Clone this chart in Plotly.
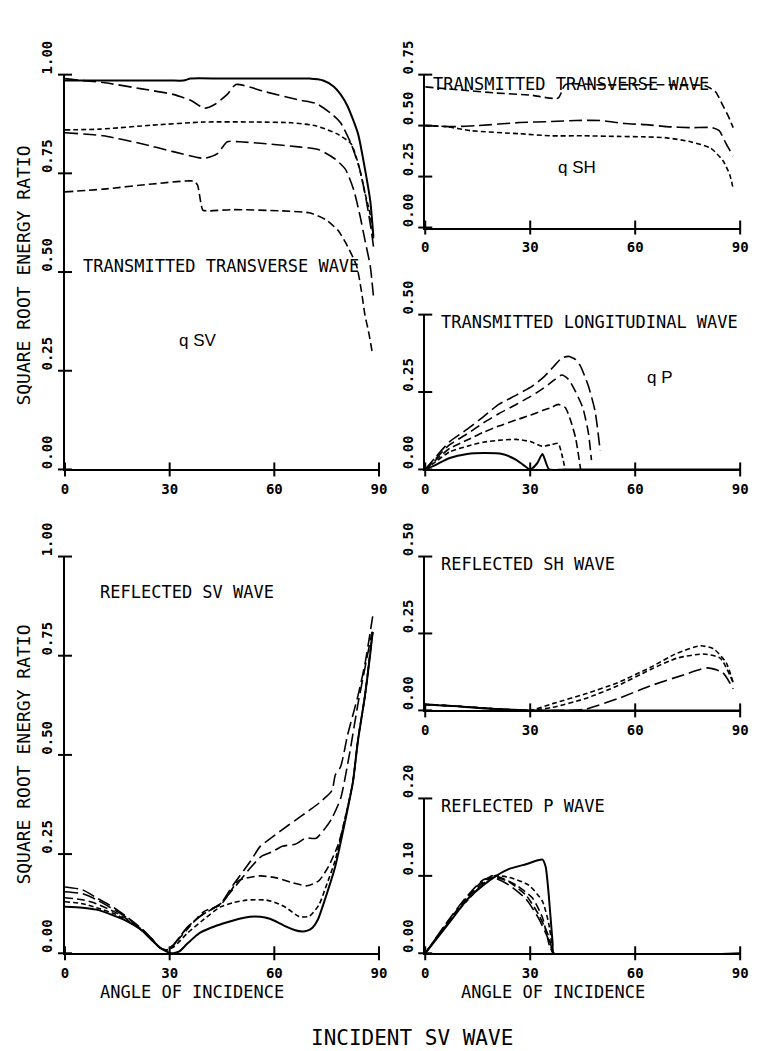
import plotly.graph_objects as go

W, H = 759, 1051

# ---------------- axis ticks ----------------
X_TICKS = [0, 30, 60, 90]
X_TICK_TEXT = ["0", "30", "60", "90"]
Y_TICKS_100 = [0.0, 0.25, 0.5, 0.75, 1.0]
Y_TICKS_075 = [0.0, 0.25, 0.5, 0.75]
Y_TICKS_050 = [0.0, 0.25, 0.5]
Y_TICKS_020 = [0.0, 0.1, 0.2]

# ---------------- transmitted qSV ----------------
tsv_solid_x = [0, 10, 20, 30, 34, 36, 45, 60, 70, 74, 77, 79, 81, 84, 86, 87.5, 88.4]
tsv_solid_y = [0.985, 0.985, 0.985, 0.985, 0.985, 0.99, 0.99, 0.99, 0.99, 0.985, 0.97, 0.95, 0.92, 0.85, 0.76, 0.68, 0.59]
tsv_ld1_x = [0, 5, 11, 22, 31, 36, 40, 43, 46.5, 49, 57.7, 67, 72, 76.5, 79, 82, 84.5, 86.4, 87.8, 88.5]
tsv_ld1_y = [0.99, 0.985, 0.98, 0.964, 0.95, 0.935, 0.915, 0.925, 0.95, 0.975, 0.956, 0.936, 0.927, 0.90, 0.878, 0.825, 0.76, 0.68, 0.605, 0.56]
tsv_sd1_x = [0, 10, 25, 40, 55, 65, 72, 78, 82, 84, 86, 87.5, 88.5]
tsv_sd1_y = [0.86, 0.862, 0.872, 0.88, 0.88, 0.878, 0.87, 0.85, 0.825, 0.776, 0.70, 0.645, 0.58]
tsv_ld2_x = [0, 11, 22, 31, 38, 40, 43.7, 46.5, 50, 57.7, 67, 72.8, 77.6, 80.4, 82.7, 84.5, 86, 87.5, 88.5]
tsv_ld2_y = [0.853, 0.845, 0.825, 0.805, 0.79, 0.788, 0.80, 0.83, 0.83, 0.825, 0.817, 0.81, 0.785, 0.76, 0.71, 0.645, 0.58, 0.515, 0.43]
tsv_md_x = [0, 11, 25, 37, 38, 39.5, 41, 48, 62, 70, 74.7, 78.3, 81, 83.6, 85, 86, 87, 88]
tsv_md_y = [0.703, 0.71, 0.723, 0.73, 0.72, 0.657, 0.655, 0.658, 0.655, 0.65, 0.633, 0.605, 0.565, 0.515, 0.45, 0.39, 0.35, 0.30]

# ---------------- transmitted qSH ----------------
tsh_md_x = [0, 10, 20, 30, 38, 40, 50, 60, 70, 80, 83, 85, 86.5, 88]
tsh_md_y = [0.69, 0.675, 0.66, 0.65, 0.635, 0.70, 0.70, 0.70, 0.70, 0.695, 0.665, 0.60, 0.55, 0.49]
tsh_ld_x = [0, 8, 15, 27, 36, 43, 50, 57, 63, 69, 76, 82, 84, 86, 88]
tsh_ld_y = [0.50, 0.495, 0.50, 0.515, 0.52, 0.525, 0.525, 0.51, 0.505, 0.495, 0.49, 0.49, 0.475, 0.41, 0.35]
tsh_sd_x = [0, 6, 13, 27, 36, 45, 55, 62, 69, 76, 81.5, 85, 87, 88]
tsh_sd_y = [0.50, 0.495, 0.475, 0.46, 0.45, 0.45, 0.447, 0.445, 0.44, 0.42, 0.39, 0.33, 0.26, 0.19]

# ---------------- transmitted qP ----------------
tp_solid_x = [0, 3, 7, 12, 16.6, 22, 26, 28, 30, 32, 33.5, 35.4, 40, 90]
tp_solid_y = [0, 0.015, 0.037, 0.05, 0.053, 0.05, 0.031, 0.015, 0.0, 0.02, 0.05, 0.0, 0, 0]
tp_sd1_x = [0, 3, 7, 12, 16.6, 22, 26, 30, 33.5, 36, 38, 39, 40]
tp_sd1_y = [0, 0.025, 0.057, 0.075, 0.088, 0.095, 0.097, 0.09, 0.075, 0.08, 0.084, 0.05, 0]
tp_d2_x = [0, 3, 7, 12, 16.6, 21, 26, 30, 33.5, 36, 38, 40, 41.5, 43, 44.4]
tp_d2_y = [0, 0.03, 0.068, 0.095, 0.12, 0.14, 0.16, 0.175, 0.19, 0.2, 0.21, 0.2, 0.16, 0.1, 0]
tp_d3_x = [0, 3, 7, 12, 16.6, 21, 26, 30, 33.5, 37, 39, 41, 43, 45, 46.6, 47.5]
tp_d3_y = [0, 0.035, 0.08, 0.115, 0.15, 0.18, 0.21, 0.235, 0.26, 0.29, 0.305, 0.29, 0.25, 0.2, 0.12, 0.03]
tp_d4_x = [0, 3, 7, 12, 16.6, 21, 26, 30.7, 34, 37.3, 39, 41, 43, 44.3, 46.6, 48.5, 50]
tp_d4_y = [0, 0.04, 0.09, 0.13, 0.17, 0.21, 0.24, 0.27, 0.3, 0.34, 0.36, 0.365, 0.355, 0.335, 0.27, 0.19, 0.06]

# ---------------- reflected SV ----------------
rsv_solid_x = [0, 5, 9, 14, 18, 22, 25, 27.6, 30.5, 32.8, 35, 37, 39, 43, 46.5, 50, 53, 56, 58.7, 61, 63.4, 66, 68,
               69.5, 71, 72.5, 74.6, 77.5, 80.3, 82.5, 84, 86, 87.5, 88.2]
rsv_solid_y = [0.117, 0.115, 0.11, 0.095, 0.08, 0.058, 0.032, 0.012, 0.0, 0.005, 0.024, 0.04, 0.053, 0.068, 0.078, 0.087,
               0.092, 0.092, 0.087, 0.078, 0.067, 0.058, 0.055, 0.057, 0.065, 0.085, 0.138, 0.22, 0.333, 0.43, 0.537,
               0.65, 0.755, 0.81]
rsv_sd1_x = [0, 5, 9, 14, 18, 22, 25, 27, 29, 31.3, 35, 39, 44.6, 48, 52, 57.7, 60.6, 63.4, 67, 70, 72.8, 74.6, 77.5,
             80, 82.5, 84, 86, 87.5, 88.2]
rsv_sd1_y = [0.13, 0.125, 0.115, 0.1, 0.082, 0.058, 0.035, 0.015, 0.008, 0.017, 0.05, 0.08, 0.117, 0.127, 0.134, 0.134,
             0.127, 0.115, 0.093, 0.093, 0.122, 0.163, 0.236, 0.33, 0.43, 0.54, 0.65, 0.76, 0.81]
rsv_sd2_x = [0, 5, 9, 14, 18, 22, 25, 27, 29, 31, 35, 39.8, 44.6, 47, 49.7, 55.9, 60.6, 65.2, 69.4, 72.8, 75.6, 78.4,
             80.3, 82.5, 84, 86, 87.5, 88.2]
rsv_sd2_y = [0.14, 0.135, 0.125, 0.105, 0.085, 0.058, 0.035, 0.015, 0.008, 0.02, 0.06, 0.105, 0.122, 0.15, 0.183, 0.195,
             0.19, 0.178, 0.17, 0.183, 0.22, 0.276, 0.34, 0.43, 0.54, 0.65, 0.76, 0.81]
rsv_ld3_x = [0, 5, 9, 14, 18, 22, 25, 27, 29, 31, 35, 39, 44.6, 48, 53.6, 56.4, 59.5, 62.3, 66, 69, 72, 75, 76.5, 79,
             81.5, 84, 86, 88]
rsv_ld3_y = [0.155, 0.15, 0.135, 0.11, 0.088, 0.06, 0.035, 0.015, 0.008, 0.02, 0.065, 0.095, 0.125, 0.16, 0.22, 0.245,
             0.256, 0.27, 0.275, 0.29, 0.29, 0.32, 0.34, 0.39, 0.5, 0.63, 0.72, 0.81]
rsv_ld4_x = [0, 5, 9, 14, 18, 22, 25, 27, 29, 31, 35, 39, 44.6, 48, 53, 56, 59, 62, 66, 70, 73, 76.5, 77.5, 79, 81, 84,
             86, 88.3]
rsv_ld4_y = [0.167, 0.16, 0.14, 0.115, 0.09, 0.062, 0.035, 0.015, 0.008, 0.02, 0.065, 0.095, 0.125, 0.17, 0.23, 0.27,
             0.29, 0.31, 0.335, 0.36, 0.38, 0.41, 0.45, 0.47, 0.55, 0.65, 0.73, 0.855]

# ---------------- reflected SH ----------------
rsh_solid_x = [0, 10, 17.5, 25, 30, 90]
rsh_solid_y = [0.019, 0.013, 0.006, 0.002, 0, 0]
rsh_sd1_x = [0, 10, 20, 30, 36.4, 45.6, 55, 64.4, 72, 78.7, 82.4, 86, 88]
rsh_sd1_y = [0.019, 0.013, 0.005, 0.0, 0.022, 0.053, 0.09, 0.14, 0.186, 0.21, 0.2, 0.155, 0.09]
rsh_sd2_x = [0, 10, 20, 30, 36.4, 45.6, 55, 64.4, 72, 79.5, 84.3, 88]
rsh_sd2_y = [0.019, 0.013, 0.005, 0.0, 0.01, 0.038, 0.08, 0.133, 0.17, 0.183, 0.17, 0.09]
rsh_ld_x = [0, 10, 20, 30, 40, 45.6, 55, 64.4, 74, 80.5, 85, 88]
rsh_ld_y = [0.019, 0.013, 0.005, 0.0, 0.0, 0.004, 0.038, 0.08, 0.116, 0.138, 0.123, 0.07]

# ---------------- reflected P ----------------
rp_solid_x = [0, 7.1, 11.9, 16.6, 20.3, 24, 28.8, 33.5, 34.4, 35.3, 36.4, 36.7, 90]
rp_solid_y = [0, 0.041, 0.069, 0.088, 0.1, 0.109, 0.115, 0.121, 0.112, 0.075, 0.013, 0, 0]
rp_sd1_x = [0, 7, 12, 16.6, 19.5, 24, 29.6, 33.5, 35.3, 36.5]
rp_sd1_y = [0, 0.042, 0.068, 0.09, 0.1, 0.098, 0.088, 0.067, 0.038, 0]
rp_d2_x = [0, 7, 12, 16.6, 19, 22, 26, 30.7, 33.5, 35.5, 36.5]
rp_d2_y = [0, 0.043, 0.07, 0.092, 0.1, 0.097, 0.088, 0.071, 0.046, 0.01, 0]
rp_d3_x = [0, 7, 12, 16.6, 20, 24, 28.8, 32.4, 35, 36.5]
rp_d3_y = [0, 0.044, 0.072, 0.094, 0.098, 0.092, 0.075, 0.05, 0.025, 0]
rp_ld4_x = [0, 7, 12, 16.6, 20, 24, 28.8, 32.4, 35, 36.5]
rp_ld4_y = [0, 0.045, 0.074, 0.095, 0.097, 0.088, 0.07, 0.045, 0.02, 0]

# ---------------- styles ----------------
SOLID = "solid"
SHORT = "5px,3px"
MED = "8px,4px"
MEDL = "10px,5px"
LONG = "13px,5px"


def px(x):
    return x / W


def py(y):
    return 1 - y / H


XL = [px(62), px(381)]
XR = [px(428), px(748)]

panels = [
    (1, XL, (42, 450), 1.0, Y_TICKS_100, ["0.00", "0.25", "0.50", "0.75", "1.00"],
     [(tsv_solid_x, tsv_solid_y, SOLID), (tsv_ld1_x, tsv_ld1_y, LONG), (tsv_sd1_x, tsv_sd1_y, SHORT),
      (tsv_ld2_x, tsv_ld2_y, LONG), (tsv_md_x, tsv_md_y, MED)]),
    (2, XR, (42, 200), 0.75, Y_TICKS_075, ["0.00", "0.25", "0.50", "0.75"],
     [(tsh_md_x, tsh_md_y, MED), (tsh_ld_x, tsh_ld_y, LONG), (tsh_sd_x, tsh_sd_y, SHORT)]),
    (3, XR, (290, 450), 0.5, Y_TICKS_050, ["0.00", "0.25", "0.50"],
     [(tp_solid_x, tp_solid_y, SOLID), (tp_sd1_x, tp_sd1_y, SHORT), (tp_d2_x, tp_d2_y, MED),
      (tp_d3_x, tp_d3_y, MEDL), (tp_d4_x, tp_d4_y, LONG)]),
    (4, XL, (540, 950), 1.0, Y_TICKS_100, ["0.00", "0.25", "0.50", "0.75", "1.00"],
     [(rsv_solid_x, rsv_solid_y, SOLID), (rsv_sd1_x, rsv_sd1_y, SHORT), (rsv_sd2_x, rsv_sd2_y, MED),
      (rsv_ld3_x, rsv_ld3_y, LONG), (rsv_ld4_x, rsv_ld4_y, LONG)]),
    (5, XR, (540, 699), 0.5, Y_TICKS_050, ["0.00", "0.25", "0.50"],
     [(rsh_solid_x, rsh_solid_y, SOLID), (rsh_sd1_x, rsh_sd1_y, SHORT), (rsh_sd2_x, rsh_sd2_y, SHORT),
      (rsh_ld_x, rsh_ld_y, LONG)]),
    (6, XR, (790, 950), 0.2, Y_TICKS_020, ["0.00", "0.10", "0.20"],
     [(rp_solid_x, rp_solid_y, SOLID), (rp_sd1_x, rp_sd1_y, SHORT), (rp_d2_x, rp_d2_y, MED),
      (rp_d3_x, rp_d3_y, MED), (rp_ld4_x, rp_ld4_y, LONG)]),
]

TICKFONT = dict(family="DejaVu Sans Mono", size=14, color="black", weight="bold")
TXTFONT = dict(family="DejaVu Sans Mono", size=17, color="black")

fig = go.Figure()
layout = dict(
    width=W, height=H, margin=dict(l=0, r=0, t=0, b=0),
    paper_bgcolor="white", plot_bgcolor="white", showlegend=False,
)

for idx, xd, (ytop, ybot), ymax, yt, ytt, curves in panels:
    xa = "x" if idx == 1 else f"x{idx}"
    ya = "y" if idx == 1 else f"y{idx}"
    for cx, cy, dash in curves:
        fig.add_trace(go.Scatter(
            x=cx, y=cy, mode="lines", xaxis=xa, yaxis=ya, hoverinfo="skip",
            line=dict(color="black", width=2 if dash == SOLID else 1.6, dash=dash, shape="spline", smoothing=0.6),
        ))
    fig.add_trace(go.Scatter(
        x=[0] * len(yt), y=yt, mode="markers", xaxis=xa, yaxis=ya, cliponaxis=False, hoverinfo="skip",
        marker=dict(symbol="line-ew", size=10, line=dict(color="black", width=2)),
    ))
    fig.add_trace(go.Scatter(
        x=X_TICKS, y=[0] * len(X_TICKS), mode="markers", xaxis=xa, yaxis=ya, cliponaxis=False, hoverinfo="skip",
        marker=dict(symbol="line-ns", size=10, line=dict(color="black", width=2)),
    ))
    xkey = "xaxis" if idx == 1 else f"xaxis{idx}"
    ykey = "yaxis" if idx == 1 else f"yaxis{idx}"
    layout[xkey] = dict(
        domain=xd, anchor=ya, range=[0, 90], tickvals=X_TICKS, ticktext=X_TICK_TEXT,
        showline=True, linecolor="black", linewidth=2, showgrid=False, zeroline=False,
        ticks="", tickfont=TICKFONT, ticklabelstandoff=6, fixedrange=True,
    )
    layout[ykey] = dict(
        domain=[py(ybot), py(ytop)], anchor=xa, range=[0, ymax], tickvals=yt, ticktext=ytt,
        showline=True, linecolor="black", linewidth=2, showgrid=False, zeroline=False,
        ticks="", tickfont=TICKFONT, tickangle=-90, ticklabelshift=-15, ticklabelstandoff=5,
        fixedrange=True,
    )

fig.update_layout(**layout)


def ann(text, x, y, font, xanchor="left", angle=0):
    fig.add_annotation(text=text, x=px(x), y=py(y), xref="paper", yref="paper", showarrow=False,
                       xanchor=xanchor, yanchor="middle", font=font, textangle=angle, borderpad=0)


ann("TRANSMITTED TRANSVERSE WAVE", 79, 240, TXTFONT)
ann("q SV", 177, 317, dict(family="Liberation Sans", size=17, color="black"))
ann("TRANSMITTED TRANSVERSE WAVE", 435, 52, TXTFONT)
ann("q SH", 562, 138, dict(family="Liberation Sans", size=17, color="black"))
ann("TRANSMITTED LONGITUDINAL WAVE", 443, 298, TXTFONT)
ann("q P", 652, 355, dict(family="Liberation Sans", size=17, color="black"))
ann("REFLECTED SV WAVE", 97, 577, TXTFONT)
ann("REFLECTED SH WAVE", 443, 548, TXTFONT)
ann("REFLECTED P WAVE", 443, 798, TXTFONT)
ann("ANGLE OF INCIDENCE", 97, 990, TXTFONT)
ann("ANGLE OF INCIDENCE", 463, 990, TXTFONT)
ann("INCIDENT SV WAVE", 415, 1038, dict(family="DejaVu Sans Mono", size=21, color="black"), xanchor="center")
ann("SQUARE ROOT ENERGY RATIO", 20, 250, dict(family="DejaVu Sans Mono", size=18, color="black"),
    xanchor="center", angle=-90)
ann("SQUARE ROOT ENERGY RATIO", 20, 745, dict(family="DejaVu Sans Mono", size=18, color="black"),
    xanchor="center", angle=-90)

fig.write_html("out.html")
